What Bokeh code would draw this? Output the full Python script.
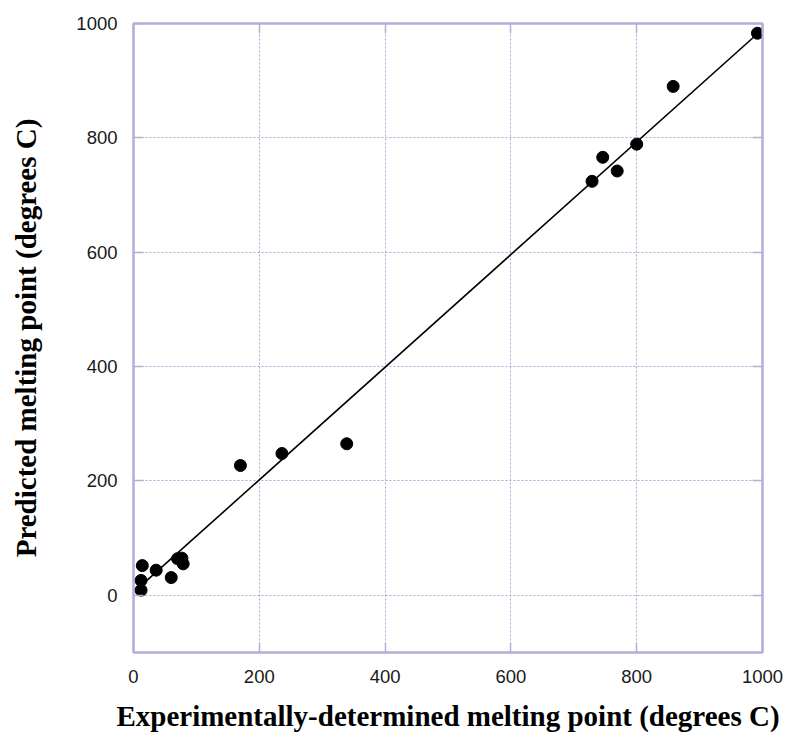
from bokeh.plotting import figure
from bokeh.models import Range1d, LinearAxis, FixedTicker, Grid
from bokeh.embed import file_html
from bokeh.resources import INLINE
import numpy as np

# Data
experimental = [12, 12, 14, 36, 60, 70, 77, 79, 170, 236, 339, 729, 746, 769, 800, 858, 992]
predicted = [9, 26, 52, 44, 31, 64, 65, 55, 227, 248, 265, 724, 766, 742, 789, 890, 983]

# Fitted line parameters
fit_slope = 0.985
fit_intercept = 5.0

x_ticks = [0, 200, 400, 600, 800, 1000]
y_ticks = [0, 200, 400, 600, 800, 1000]

x_label = "Experimentally-determined melting point (degrees C)"
y_label = "Predicted melting point (degrees C)"

frame_col = "#b0b0d8"
grid_col = "#a8a8d4"

p = figure(width=783, height=736, output_backend="svg", toolbar_location=None,
           x_range=Range1d(0, 1000), y_range=Range1d(-100, 1000),
           min_border_left=133, min_border_right=21, min_border_top=23,
           min_border_bottom=84, x_axis_type=None, y_axis_type=None)

p.outline_line_color = frame_col
p.outline_line_width = 2
p.background_fill_color = "white"
p.border_fill_color = "white"

def style_axis(ax, ticks, show_labels):
    ax.ticker = FixedTicker(ticks=ticks)
    ax.axis_line_color = frame_col
    ax.axis_line_width = 2
    ax.major_tick_line_color = frame_col
    ax.major_tick_line_width = 1.5
    ax.major_tick_in = 10
    ax.major_tick_out = 0
    ax.minor_tick_line_color = None
    if show_labels:
        ax.major_label_text_font = "Liberation Sans"
        ax.major_label_text_font_size = "18.5px"
        ax.major_label_text_color = "#1a1a1a"
        ax.axis_label_text_font = "Liberation Serif"
        ax.axis_label_text_font_style = "bold"
        ax.axis_label_text_font_size = "29px"
        ax.axis_label_text_color = "black"
    else:
        ax.major_label_text_font_size = "1px"
        ax.major_label_text_color = None
        ax.major_label_standoff = 0

xb = LinearAxis(axis_label=x_label)
style_axis(xb, x_ticks, True)
xb.major_label_standoff = 17
xb.axis_label_standoff = 14
p.add_layout(xb, "below")

yl = LinearAxis(axis_label=y_label)
style_axis(yl, y_ticks, True)
yl.major_label_standoff = 16
yl.axis_label_standoff = 31
p.add_layout(yl, "left")

xt = LinearAxis()
style_axis(xt, x_ticks, False)
p.add_layout(xt, "above")

yr = LinearAxis()
style_axis(yr, y_ticks, False)
p.add_layout(yr, "right")

gx = Grid(dimension=0, ticker=FixedTicker(ticks=[200, 400, 600, 800]),
          grid_line_color=grid_col, grid_line_dash="2 2", grid_line_width=1)
gy = Grid(dimension=1, ticker=FixedTicker(ticks=[0, 200, 400, 600, 800]),
          grid_line_color=grid_col, grid_line_dash="2 2", grid_line_width=1)
p.add_layout(gx)
p.add_layout(gy)

lx = np.array([min(experimental), max(experimental)], dtype=float)
ly = fit_slope * lx + fit_intercept
p.line(lx, ly, line_color="black", line_width=1.6)

p.scatter(experimental, predicted, size=12, fill_color="black", line_color="black")

open("out.html", "w").write(file_html(p, INLINE))
